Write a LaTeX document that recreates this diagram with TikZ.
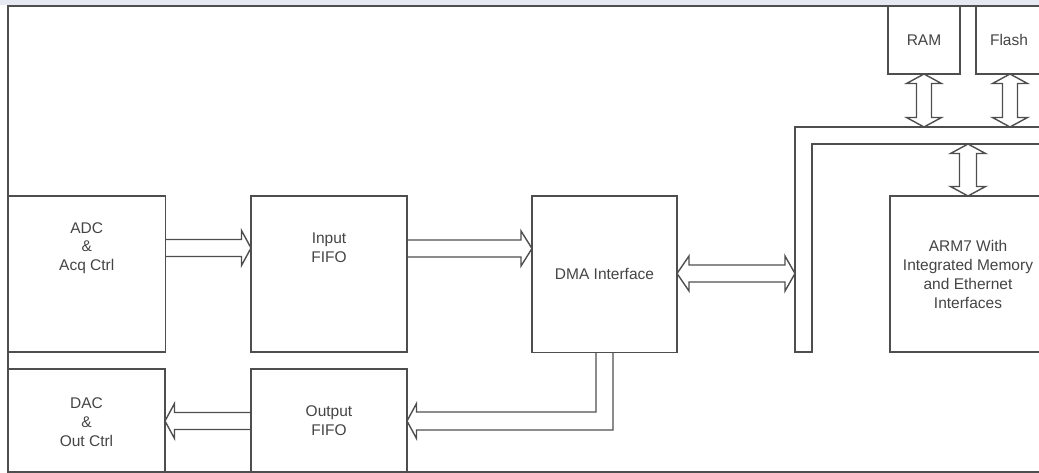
\documentclass[tikz,border=0pt]{standalone}
\usepackage{fontspec}
\setmainfont{Liberation Sans}
\definecolor{lc}{RGB}{78,78,78}
\definecolor{tc}{RGB}{68,68,68}
\definecolor{stripc}{RGB}{230,233,242}
\tikzset{
 ln/.style={draw=lc, line width=1.4pt, line join=miter},
 box/.style={ln, rectangle, inner sep=0pt, outer sep=0pt},
 txt/.style={text=tc, align=center, font=\fontsize{15.5}{18.7}\selectfont, inner sep=0pt},
}
% single horizontal fat arrow: #1 start, #2 tip, #3 signed head length
\newcommand\hfat[3]{\draw[ln] ([yshift=8.5pt]#1) -- ([xshift={-(#3)*1pt},yshift=8.5pt]#2) -- ([xshift={-(#3)*1pt},yshift=17.5pt]#2) -- (#2) -- ([xshift={-(#3)*1pt},yshift=-17.5pt]#2) -- ([xshift={-(#3)*1pt},yshift=-8.5pt]#2) -- ([yshift=-8.5pt]#1);}
% double horizontal fat arrow: #1 left tip, #2 right tip, #3 left head, #4 right head
\newcommand\hdfat[4]{\draw[ln] (#1) -- ([xshift=#3pt,yshift=17.5pt]#1) -- ([xshift=#3pt,yshift=8.5pt]#1) -- ([xshift=-#4pt,yshift=8.5pt]#2) -- ([xshift=-#4pt,yshift=17.5pt]#2) -- (#2) -- ([xshift=-#4pt,yshift=-17.5pt]#2) -- ([xshift=-#4pt,yshift=-8.5pt]#2) -- ([xshift=#3pt,yshift=-8.5pt]#1) -- ([xshift=#3pt,yshift=-17.5pt]#1) -- cycle;}
% double vertical fat arrow: #1 top tip, #2 bottom tip, #3 head length, #4 shaft half width
\newcommand\vdfat[4]{\draw[ln] (#1) -- ([yshift=-#3pt,xshift=17.5pt]#1) -- ([yshift=-#3pt,xshift=#4pt]#1) -- ([yshift=#3pt,xshift=#4pt]#2) -- ([yshift=#3pt,xshift=17.5pt]#2) -- (#2) -- ([yshift=#3pt,xshift=-17.5pt]#2) -- ([yshift=#3pt,xshift=-#4pt]#2) -- ([yshift=-#3pt,xshift=-#4pt]#1) -- ([yshift=-#3pt,xshift=-17.5pt]#1) -- cycle;}
\begin{document}
\begin{tikzpicture}[x=1pt,y=-1pt]
\useasboundingbox (0,0) rectangle (1039,473);
\clip (0,0) rectangle (1039,473);
\fill[stripc] (0,0) rectangle (1039,5);
% outer frame
\draw[ln] (8,6) rectangle (1060,472);
% boxes
\node[box, minimum width=157.5pt, minimum height=156pt] (adc) at (86.75,274) {};
\node[box, minimum width=156pt, minimum height=156pt] (infifo) at (329,274) {};
\node[box, minimum width=145pt, minimum height=156.5pt] (dma) at (604.5,274.25) {};
\node[box, minimum width=156pt, minimum height=156pt] (arm) at (968,274) {};
\node[box, minimum width=72pt, minimum height=68pt] (ram) at (924,40) {};
\node[box, minimum width=68pt, minimum height=68pt] (flash) at (1010,40) {};
\node[box, minimum width=157pt, minimum height=103pt] (dac) at (86.5,420.5) {};
\node[box, minimum width=156pt, minimum height=103pt] (outfifo) at (329,420.5) {};
% texts
\node[txt] (adct) at (86.75,248) {ADC\\\&\\Acq Ctrl};
\node[txt] (inft) at (329,248) {Input\\FIFO};
\node[txt] (dmat) at (604.5,274) {DMA Interface};
\node[txt] (armt) at (968,274.5) {ARM7 With\\Integrated Memory\\and Ethernet\\Interfaces};
\node[txt] (ramt) at (924,40) {RAM};
\node[txt] (flasht) at (1009,40) {Flash};
\node[txt] (dact) at (86.5,422) {DAC\\\&\\Out Ctrl};
\node[txt] (outt) at (329,421) {Output\\FIFO};
% bus
\coordinate (busOT) at (795,127);
\coordinate (busIT) at (812,144);
\coordinate (busOB) at (795,352);
\coordinate (busIB) at (812,352);
\draw[ln] (1060,127) -- (busOT) -- (busOB) -- (busIB) -- (busIT) -- (1060,144);
% arrows
\coordinate (a1s) at (adc.east |- 0,248);
\coordinate (a1t) at (infifo.west |- 0,248);
\hfat{a1s}{a1t}{9.5}
\coordinate (a2s) at (infifo.east |- 0,248.5);
\coordinate (a2t) at (dma.west |- 0,248.5);
\hfat{a2s}{a2t}{11}
\coordinate (a3l) at (dma.east |- 0,273.5);
\coordinate (a3r) at (busOT |- 0,273.5);
\hdfat{a3l}{a3r}{12}{10}
\coordinate (ramb) at (ram.south |- busOT);
\vdfat{ram.south}{ramb}{9.5}{7.5}
\coordinate (flashb) at (flash.south |- busOT);
\vdfat{flash.south}{flashb}{9.5}{7.5}
\coordinate (armtop) at (arm.north |- busIT);
\vdfat{armtop}{arm.north}{9.5}{8.5}
% DMA to Output FIFO (bent)
\coordinate (obT) at (outfifo.east |- 0,421);
\coordinate (obK) at (dma.south |- obT);
\draw[ln] ([xshift=-8.5pt]dma.south) -- ([xshift=-8.5pt,yshift=9pt]obK) -- ([xshift=9.5pt,yshift=9pt]obT) -- ([xshift=9.5pt,yshift=17.5pt]obT) -- (obT) -- ([xshift=9.5pt,yshift=-17.5pt]obT) -- ([xshift=9.5pt,yshift=-9pt]obT) -- ([xshift=8.5pt,yshift=-9pt]obK) -- ([xshift=8.5pt]dma.south);
% Output FIFO to DAC
\coordinate (a5s) at (outfifo.west |- obT);
\coordinate (a5t) at (dac.east |- obT);
\hfat{a5s}{a5t}{-9.5}
\end{tikzpicture}
\end{document}
